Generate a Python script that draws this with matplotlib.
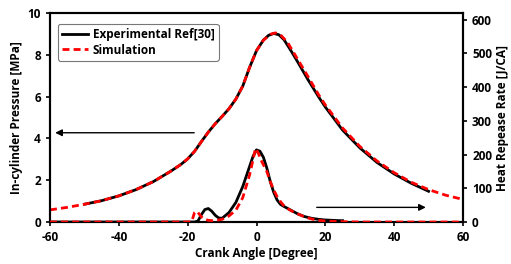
import matplotlib
matplotlib.use("Agg")
import matplotlib.pyplot as plt

plt.rcParams['font.family'] = ['Open Sans', 'DejaVu Sans']
plt.rcParams['font.weight'] = 'bold'
plt.rcParams['axes.unicode_minus'] = False

# Pressure (MPa)
p_exp_x = [-50, -45, -40, -35, -30, -25, -22, -20, -18, -16, -14, -12, -10, -8, -6, -4, -2, 0, 2, 3.5, 5, 6.5, 8, 10, 12, 15, 18, 20, 25, 30, 35, 40, 45, 50]
p_exp_y = [0.85, 1.02, 1.25, 1.55, 1.93, 2.42, 2.75, 3.02, 3.38, 3.85, 4.3, 4.7, 5.05, 5.42, 5.88, 6.5, 7.4, 8.2, 8.7, 8.93, 9.02, 8.96, 8.72, 8.2, 7.65, 6.8, 6.0, 5.5, 4.4, 3.55, 2.85, 2.3, 1.85, 1.47]
p_sim_x = [-60, -55, -50, -45, -40, -35, -30, -25, -22, -20, -18, -16, -14, -12, -10, -8, -6, -4, -2, 0, 2, 4, 5.5, 7, 9, 11, 13, 15, 18, 20, 25, 30, 35, 40, 45, 50, 55, 60]
p_sim_y = [0.58, 0.7, 0.85, 1.02, 1.25, 1.55, 1.93, 2.42, 2.75, 3.02, 3.38, 3.85, 4.3, 4.7, 5.05, 5.42, 5.88, 6.5, 7.4, 8.2, 8.7, 8.98, 9.05, 8.95, 8.6, 8.05, 7.5, 6.95, 6.1, 5.6, 4.5, 3.62, 2.92, 2.36, 1.9, 1.55, 1.28, 1.08]

# Heat release rate (J/CA)
h_exp_x = [-60, -18, -17, -16, -15, -14, -13, -12, -11, -10, -8, -6, -4, -2, -1, 0, 1, 2, 3, 4, 5, 6, 7, 8, 10, 12, 14, 16, 18, 20, 22, 24, 25]
h_exp_y = [0, 0, 3, 22, 37, 40, 32, 20, 12, 11, 28, 58, 105, 165, 195, 214, 210, 192, 160, 120, 88, 65, 52, 46, 35, 24, 16, 11, 8, 6, 5, 4, 4]
h_sim_x = [-60, -19, -18.5, -18, -17.5, -17, -16, -15, -14, -13, -12, -11, -10, -8, -6, -4, -2, -1, -0.3, 0.5, 1.5, 3, 4, 5, 6, 7, 8, 9, 10, 12, 14, 16, 18, 20, 22, 25, 30, 40, 50, 60]
h_sim_y = [0, 0, 12, 28, 32, 28, 15, 8, 5, 4, 5, 6, 8, 18, 35, 72, 140, 185, 218, 205, 180, 150, 120, 95, 75, 60, 48, 40, 34, 24, 15, 9, 5, 3, 2, 1, 0, 0, 0, 0]

xticks = [-60, -40, -20, 0, 20, 40, 60]
yticks_left = [0, 2, 4, 6, 8, 10]
yticks_right = [0, 100, 200, 300, 400, 500, 600]

fig = plt.figure(figsize=(5.11, 2.64), dpi=100)
ax = fig.add_axes([50/511, 1-222/264, (463-50)/511, (222-13)/264])
ax2 = ax.twinx()

ax.plot(p_exp_x, p_exp_y, color='black', lw=2.0, label='Experimental Ref[30]', zorder=3)
ax.plot(p_sim_x, p_sim_y, color='red', lw=2.0, ls=(0, (2.5, 1.5)), label='Simulation', zorder=4)
ax2.plot(h_exp_x, h_exp_y, color='black', lw=2.0, zorder=3)
ax2.plot(h_sim_x, h_sim_y, color='red', lw=2.0, ls=(0, (2.5, 1.5)), zorder=4)

ax.set_xlim(-60, 60)
ax.set_ylim(0, 10)
ax2.set_ylim(0, 620)
ax.set_xticks(xticks)
ax.set_yticks(yticks_left)
ax2.set_yticks(yticks_right)

ax.annotate('', xy=(-59.3, 4.27), xytext=(-17.3, 4.27),
            arrowprops=dict(arrowstyle='-|>', color='black', lw=1.0, mutation_scale=10))
ax.annotate('', xy=(50, 0.7), xytext=(16.7, 0.7),
            arrowprops=dict(arrowstyle='-|>', color='black', lw=1.0, mutation_scale=10))

for a in (ax, ax2):
    for s in a.spines.values():
        s.set_linewidth(1.5)
    a.tick_params(direction='out', length=3, width=1.2, labelsize=8.5)
for lab in ax.get_xticklabels() + ax.get_yticklabels() + ax2.get_yticklabels():
    lab.set_fontweight('bold')

ax.set_xlabel('Crank Angle [Degree]', fontsize=8.5, fontweight='bold', labelpad=2)
ax.set_ylabel('In-cylinder Pressure [MPa]', fontsize=8.5, fontweight='bold', labelpad=3)
ax2.set_ylabel('Heat Repease Rate [J/CA]', fontsize=8.5, fontweight='bold', labelpad=3)

leg = ax.legend(loc='upper left', fontsize=8.5, frameon=True, fancybox=True,
                edgecolor='#555555', handlelength=2.2, handletextpad=0.4,
                borderpad=0.35, labelspacing=0.2, bbox_to_anchor=(0.005, 0.975))
leg.get_frame().set_linewidth(0.8)
for t in leg.get_texts():
    t.set_fontweight('bold')

fig.savefig('out.png', dpi=100)
